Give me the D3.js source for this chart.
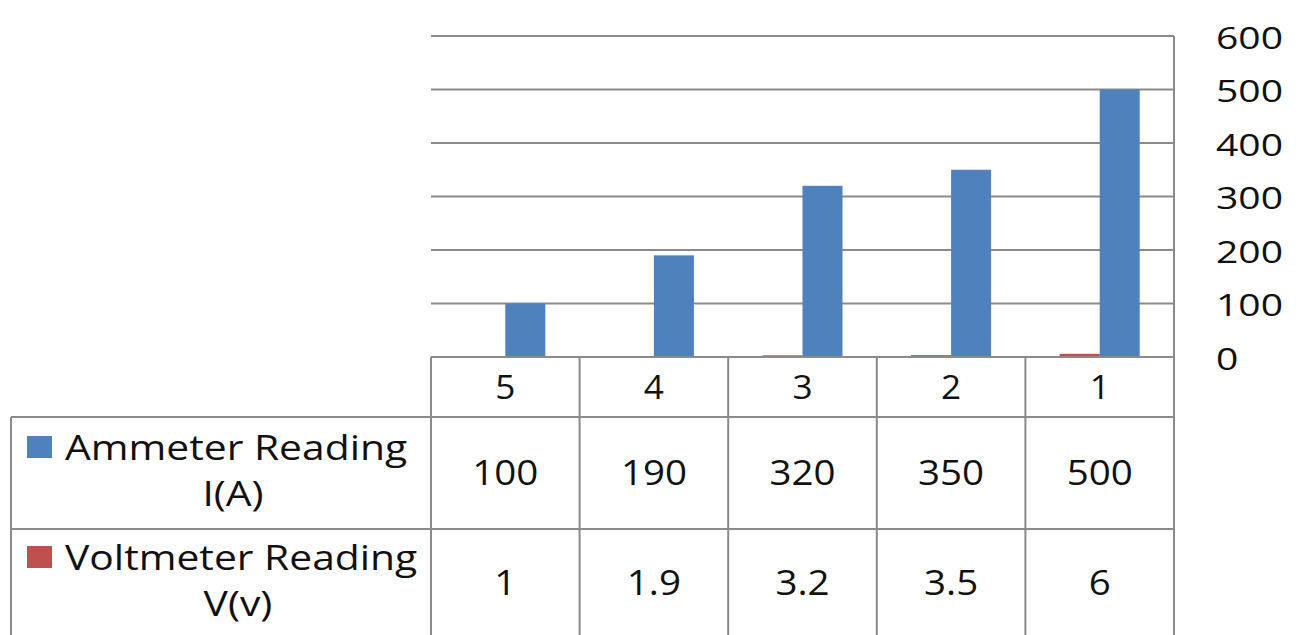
<!DOCTYPE html>
<html>
<head>
<meta charset="utf-8">
<script src="https://cdn.jsdelivr.net/npm/d3@7"></script>
<style>
  html, body { margin: 0; padding: 0; background: #fff; }
  svg { display: block; }
  text { font-family: "Open Sans", sans-serif; fill: #111; }
</style>
</head>
<body>
<svg id="chart" width="1298" height="635"></svg>
<script>
// ---- data ----
const categories = ["5", "4", "3", "2", "1"];
const ammeter = [100, 190, 320, 350, 500];
const voltmeter = [1, 1.9, 3.2, 3.5, 6];
const seriesKeys = ["voltmeter", "ammeter"]; // drawn order within group (reversed axis)
const seriesLabels = {
  ammeter: ["Ammeter Reading", "I(A)"],
  voltmeter: ["Voltmeter Reading", "V(v)"]
};
const seriesColors = { ammeter: "#4F81BD", voltmeter: "#C0504D" };
const yTicks = [0, 100, 200, 300, 400, 500, 600];

// ---- layout ----
const W = 1298, H = 635;
const plotL = 431, plotR = 1174, plotT = 36, plotB = 357;
const rowBounds = [357, 417, 529, 641];
const tableL = 11;
const gridColor = "#8a8a8a";

const svg = d3.select("#chart");

const x = d3.scaleBand().domain(categories).range([plotL, plotR]).padding(0);
const xi = d3.scaleBand().domain(seriesKeys).range([0, x.bandwidth()])
  .paddingInner(0).paddingOuter(0.857);
const y = d3.scaleLinear().domain([0, 600]).range([plotB, plotT]);

function stretchedText(g, tx, ty, str, size, sx, anchor) {
  return g.append("text")
    .attr("transform", `translate(${tx},${ty}) scale(${sx},1)`)
    .attr("text-anchor", anchor || "middle")
    .attr("dominant-baseline", "central")
    .style("font-size", size + "px")
    .text(str);
}

// gridlines
svg.append("g").selectAll("line").data(yTicks).join("line")
  .attr("x1", plotL).attr("x2", plotR)
  .attr("y1", d => y(d)).attr("y2", d => y(d))
  .attr("stroke", gridColor).attr("stroke-width", 2);

// bars
const rows = categories.map((c, i) => ({ cat: c, ammeter: ammeter[i], voltmeter: voltmeter[i] }));
const groups = svg.append("g").selectAll("g").data(rows).join("g")
  .attr("transform", d => `translate(${x(d.cat)},0)`);
groups.selectAll("rect").data(d => seriesKeys.map(k => ({ key: k, value: d[k] }))).join("rect")
  .attr("x", d => xi(d.key))
  .attr("width", xi.bandwidth())
  .attr("y", d => y(d.value))
  .attr("height", d => y(0) - y(d.value))
  .attr("fill", d => seriesColors[d.key]);

// right value axis labels
const axis = d3.axisRight(y).tickValues(yTicks).tickSize(0).tickPadding(0);
const axG = svg.append("g").attr("transform", `translate(${plotR},0)`).call(axis);
axG.select(".domain").remove();
axG.selectAll(".tick text").remove();
axG.selectAll(".tick").each(function(d) {
  stretchedText(d3.select(this), 42, 0, String(d), 31, 1.26, "start");
});

// data table lines
const tl = svg.append("g").attr("stroke", gridColor).attr("stroke-width", 2);
tl.append("line").attr("x1", plotL).attr("x2", plotR).attr("y1", y(0)).attr("y2", y(0));
[rowBounds[1], rowBounds[2]].forEach(v => {
  tl.append("line").attr("x1", tableL).attr("x2", plotR).attr("y1", v).attr("y2", v);
});
const divs = categories.map(c => x(c)).concat([x(categories[categories.length - 1]) + x.bandwidth()]);
divs.forEach((v, i) => {
  tl.append("line").attr("x1", v).attr("x2", v)
    .attr("y1", i === divs.length - 1 ? plotT : plotB).attr("y2", H);
});
tl.append("line").attr("x1", tableL).attr("x2", tableL).attr("y1", rowBounds[1]).attr("y2", H);

// category labels
const tg = svg.append("g");
categories.forEach(c => {
  stretchedText(tg, x(c) + x.bandwidth() / 2, (rowBounds[0] + rowBounds[1]) / 2, c, 32, 1.1);
});

// value rows
const tableSeries = ["ammeter", "voltmeter"];
const seriesValues = { ammeter: ammeter, voltmeter: voltmeter };
tableSeries.forEach((k, r) => {
  const top = rowBounds[r + 1], bot = rowBounds[r + 2];
  const cy = (top + bot) / 2 - (r === 1 ? 3 : 1);
  categories.forEach((c, i) => {
    stretchedText(tg, x(c) + x.bandwidth() / 2, cy, String(seriesValues[k][i]), 35, 1.1);
  });
  // legend key + label
  const lines = seriesLabels[k];
  const l1 = cy - 25, l2 = cy + 21;
  tg.append("rect").attr("x", 27).attr("y", l1 - 11).attr("width", 25).attr("height", 22)
    .attr("fill", seriesColors[k]);
  stretchedText(tg, 65, l1, lines[0], 34, 1.2, "start");
  stretchedText(tg, r === 0 ? 233 : 238, l2, lines[1], 34, 1.2);
});
</script>
</body>
</html>
